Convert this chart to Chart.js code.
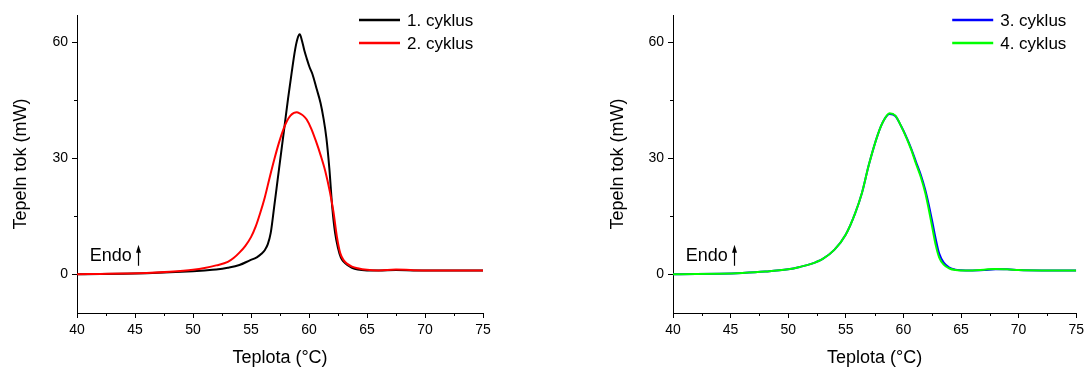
<!DOCTYPE html>
<html>
<head>
<meta charset="utf-8">
<script src="https://cdn.jsdelivr.net/npm/chart.js@4/dist/chart.umd.min.js"></script>
<style>
html, body { margin: 0; padding: 0; background: #fff; }
#wrap { position: relative; width: 1088px; height: 369px; }
canvas { position: absolute; top: 0; }
</style>
</head>
<body>
<div id="wrap">
<canvas id="c1" width="544" height="369" style="left:0"></canvas>
<canvas id="c2" width="544" height="369" style="left:544px"></canvas>
</div>
<script>
// teploty a tepelny tok
const c1T = [40, 42, 44, 46, 48, 50, 51, 52, 53, 54, 54.9, 55.5, 55.9, 56.2, 56.45, 56.7, 57.0, 57.3, 57.6, 57.9, 58.2, 58.5, 58.8, 59.0, 59.2, 59.4, 59.6, 59.8, 60.05, 60.3, 60.65, 61.0, 61.25, 61.5, 61.75, 62.0, 62.25, 62.5, 62.75, 63.0, 63.3, 63.7, 64.2, 65, 66, 67.5, 69, 71, 73, 75];
const c1Q = [0, 0.05, 0.15, 0.3, 0.5, 0.8, 1.0, 1.25, 1.7, 2.4, 3.6, 4.4, 5.3, 6.3, 7.8, 10.7, 17.5, 24.5, 31.5, 38.5, 45.5, 52, 58, 60.8, 62, 60.3, 57.8, 55.8, 53.5, 51.7, 48.0, 44.2, 40.3, 35.2, 27.5, 17.5, 10.7, 6.8, 4.3, 3.2, 2.4, 1.7, 1.25, 1.0, 0.95, 1.1, 1.0, 0.95, 0.95, 0.95];

const c2T = [40, 42, 44, 46, 48, 50, 51, 52, 53, 53.5, 54, 54.5, 55, 55.4, 55.8, 56.2, 56.6, 57.0, 57.4, 57.8, 58.1, 58.4, 58.7, 58.95, 59.2, 59.5, 59.8, 60.2, 60.6, 61.0, 61.4, 61.8, 62.1, 62.4, 62.7, 63.0, 63.3, 63.7, 64.2, 65, 66, 67.5, 69, 71, 73, 75];
const c2Q = [0, 0.1, 0.2, 0.35, 0.65, 1.15, 1.6, 2.3, 3.2, 4.2, 5.6, 7.3, 9.6, 12.3, 15.9, 20.0, 24.9, 29.6, 33.9, 37.5, 39.6, 41.0, 41.7, 41.9, 41.6, 41.0, 40.0, 37.6, 34.4, 30.8, 26.7, 21.3, 16.3, 9.8, 5.4, 3.6, 2.7, 2.0, 1.55, 1.15, 1.0, 1.25, 1.05, 1.0, 1.0, 1.0];

const c34T = [40, 42, 44, 46, 48, 50, 51, 52, 53, 54, 55, 55.8, 56.4, 57, 57.8, 58.3, 58.8, 59.3, 59.8, 60.3, 60.7, 61.1, 61.5, 61.9, 62.2, 62.5, 62.8, 63.1, 63.5, 64, 64.5, 65, 66, 67, 68, 69, 70, 72, 75];
const c3Q = [0, 0.05, 0.15, 0.35, 0.7, 1.3, 1.9, 2.7, 4.0, 6.3, 10.3, 15.7, 21, 28.3, 36.3, 39.8, 41.4, 40.9, 38.3, 35.2, 32.3, 29, 25.8, 21.8, 18, 13.7, 9.2, 5.4, 3.0, 1.7, 1.2, 1.05, 1.0, 1.1, 1.3, 1.3, 1.1, 1.0, 1.0];
const c4Q = [0, 0.05, 0.15, 0.35, 0.7, 1.3, 1.9, 2.7, 4.0, 6.3, 10.3, 15.7, 21, 28.3, 36.3, 39.8, 41.6, 41.0, 38.3, 35, 32, 28.5, 25.2, 21, 16.8, 12.2, 7.6, 4.4, 2.5, 1.5, 1.1, 1.0, 1.0, 1.2, 1.4, 1.3, 1.1, 1.0, 1.0];

const xTicks = [40, 45, 50, 55, 60, 65, 70, 75];
const xMinor = [42.5, 47.5, 52.5, 57.5, 62.5, 67.5, 72.5];
const yTicks = [0, 30, 60];
const yMinor = [15, 45];

const FONT = '"Liberation Sans", Arial, sans-serif';

function pts(t, q){
	return t.map((v, i) => ({x: v, y: q[i]}));
}

// legenda, Endo sipka a vedlejsi carky
const extras = {
	id: 'extras',
	afterDraw(chart){
		const ctx = chart.ctx;
		const a = chart.chartArea;
		const xs = chart.scales.x, ys = chart.scales.y;
		ctx.save();
		ctx.strokeStyle = '#000';
		ctx.lineWidth = 1;
		// vedlejsi carky
		ctx.beginPath();
		xMinor.forEach(v => {
			const px = Math.round(xs.getPixelForValue(v)) + 0.5;
			ctx.moveTo(px, a.bottom);
			ctx.lineTo(px, a.bottom + 3);
		});
		yMinor.forEach(v => {
			const py = Math.round(ys.getPixelForValue(v)) + 0.5;
			ctx.moveTo(a.left, py);
			ctx.lineTo(a.left - 3, py);
		});
		ctx.stroke();

		// legenda
		ctx.font = '17px ' + FONT;
		ctx.textBaseline = 'middle';
		ctx.textAlign = 'left';
		chart.data.datasets.forEach((ds, i) => {
			const y = a.top + 5 + i * 23;
			ctx.strokeStyle = ds.borderColor;
			ctx.lineWidth = 2.5;
			ctx.beginPath();
			ctx.moveTo(a.right - 124, y);
			ctx.lineTo(a.right - 83, y);
			ctx.stroke();
			ctx.fillStyle = '#000';
			ctx.fillText(ds.label, a.right - 76, y + 1);
		});

		// Endo
		ctx.font = '18px ' + FONT;
		ctx.textBaseline = 'alphabetic';
		ctx.fillStyle = '#000';
		const ex = xs.getPixelForValue(41.1);
		const ey = ys.getPixelForValue(3.5);
		ctx.fillText('Endo', ex, ey);
		const ax = Math.round(xs.getPixelForValue(45.3)) + 0.5;
		ctx.strokeStyle = '#000';
		ctx.lineWidth = 1.2;
		ctx.beginPath();
		ctx.moveTo(ax, ey + 5);
		ctx.lineTo(ax, ey - 10);
		ctx.stroke();
		ctx.beginPath();
		ctx.moveTo(ax, ey - 16);
		ctx.lineTo(ax - 2.5, ey - 8);
		ctx.lineTo(ax + 2.5, ey - 8);
		ctx.closePath();
		ctx.fill();
		ctx.restore();
	}
};

function makeChart(id, sets, yWidth, padRight, yTitlePad){
	return new Chart(document.getElementById(id), {
		type: 'line',
		data: {
			datasets: sets.map(s => ({
				label: s.label,
				data: s.data,
				borderColor: s.color,
				borderWidth: 2,
				pointRadius: 0,
				fill: false,
				cubicInterpolationMode: 'monotone',
				order: s.order
			}))
		},
		options: {
			responsive: false,
			animation: false,
			devicePixelRatio: 1,
			layout: { padding: { top: 15, right: padRight, bottom: 0, left: 0 } },
			plugins: { legend: { display: false }, tooltip: { enabled: false } },
			scales: {
				x: {
					type: 'linear',
					min: 40, max: 75,
					afterFit: s => { s.height = 56; },
					afterBuildTicks: s => { s.ticks = xTicks.map(v => ({value: v})); },
					grid: { drawOnChartArea: false, drawTicks: true, tickLength: 5, color: '#000' },
					border: { color: '#000', width: 1 },
					ticks: { color: '#000', padding: 4, maxRotation: 0, font: { family: FONT, size: 14 } },
					title: { display: true, text: 'Teplota (°C)', color: '#000', padding: { top: 0, bottom: 0 }, font: { family: FONT, size: 18 } }
				},
				y: {
					type: 'linear',
					min: -10, max: 67,
					afterFit: s => { s.width = yWidth; },
					afterBuildTicks: s => { s.ticks = yTicks.map(v => ({value: v})); },
					grid: { drawOnChartArea: false, drawTicks: true, tickLength: 5, color: '#000' },
					border: { color: '#000', width: 1 },
					ticks: { color: '#000', padding: 4, font: { family: FONT, size: 14 } },
					title: { display: true, text: 'Tepeln tok (mW)', color: '#000', padding: { top: yTitlePad, bottom: 0 }, font: { family: FONT, size: 18 } }
				}
			}
		},
		plugins: [extras]
	});
}

makeChart('c1', [
	{ label: '1. cyklus', data: pts(c1T, c1Q), color: '#000000', order: 1 },
	{ label: '2. cyklus', data: pts(c2T, c2Q), color: '#ff0000', order: 0 }
], 77, 61, 10);

makeChart('c2', [
	{ label: '3. cyklus', data: pts(c34T, c3Q), color: '#0000ff', order: 1 },
	{ label: '4. cyklus', data: pts(c34T, c4Q), color: '#00ff00', order: 0 }
], 129, 8, 63);
</script>
</body>
</html>
